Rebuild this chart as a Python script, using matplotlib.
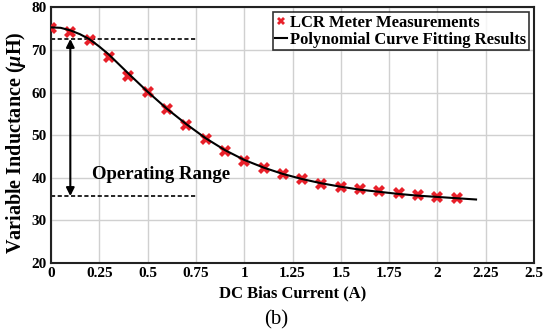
import numpy as np
import matplotlib
matplotlib.use('Agg')
import matplotlib.pyplot as plt

plt.rcParams['font.family'] = ['Liberation Serif', 'DejaVu Serif']
plt.rcParams['mathtext.fontset'] = 'custom'
plt.rcParams['mathtext.it'] = 'Liberation Serif:italic:bold'

# LCR meter measurements
meas_i = [0, 0.1, 0.2, 0.3, 0.4, 0.5, 0.6, 0.7, 0.8, 0.9, 1.0, 1.1,
          1.2, 1.3, 1.4, 1.5, 1.6, 1.7, 1.8, 1.9, 2.0, 2.1]
meas_l = [75.2, 74.2, 72.4, 68.4, 64.0, 60.1, 56.1, 52.5, 49.0, 46.3, 44.0, 42.3,
          40.8, 39.6, 38.6, 37.8, 37.3, 36.8, 36.4, 36.0, 35.5, 35.2]

# polynomial fit curve
fit_i = [0, 0.05, 0.1, 0.15, 0.2, 0.25, 0.3, 0.4, 0.5, 0.6, 0.7, 0.8, 0.9, 1.0, 1.1,
         1.2, 1.3, 1.4, 1.5, 1.6, 1.7, 1.8, 1.9, 2.0, 2.1, 2.2]
fit_l = [75.3, 75.2, 74.6, 73.7, 72.5, 70.8, 68.9, 64.5, 60.2, 56.2, 52.6, 49.3, 46.5, 44.2, 42.4,
         40.9, 39.7, 38.7, 37.9, 37.2, 36.7, 36.2, 35.8, 35.5, 35.2, 34.9]

range_hi = 72.6
range_lo = 35.7
xticks = [0, 0.25, 0.5, 0.75, 1, 1.25, 1.5, 1.75, 2, 2.25, 2.5]
xlabels = ['0', '0.25', '0.5', '0.75', '1', '1.25', '1.5', '1.75', '2', '2.25', '2.5']

fig = plt.figure(figsize=(5.52, 3.35), dpi=100)
ax = fig.add_axes([0.0924, 0.215, 0.875, 0.763])

ax.plot(meas_i, meas_l, linestyle='none', marker='X', color='#e8202a', markersize=8,
        markeredgewidth=0, label='LCR Meter Measurements', zorder=3)
ax.plot(fit_i, fit_l, color='black', linewidth=1.5, label='Polynomial Curve Fitting Results', zorder=4)

# operating range markers
ax.plot([0, 0.75], [range_hi, range_hi], 'k--', linewidth=1.2, dashes=(2.5, 1.5))
ax.plot([0, 0.75], [range_lo, range_lo], 'k--', linewidth=1.2, dashes=(2.5, 1.5))
ax.annotate('', xy=(0.1, range_hi), xytext=(0.1, range_lo),
            arrowprops=dict(arrowstyle='<|-|>', color='black', lw=1.5, mutation_scale=12,
                            shrinkA=0, shrinkB=0))
ax.text(0.57, 40.8, 'Operating Range', ha='center', va='center', fontsize=13.5, fontweight='bold')

ax.set_xlim(0, 2.5)
ax.set_ylim(20, 80)
ax.set_xticks(xticks)
ax.set_xticklabels(xlabels)
ax.set_yticks(range(20, 81, 10))
ax.grid(True, color='#d0d0d0', linewidth=1)
ax.set_axisbelow(True)
ax.tick_params(length=0, labelsize=11, pad=3)
for lab in ax.get_xticklabels() + ax.get_yticklabels():
    lab.set_fontweight('bold')
for s in ax.spines.values():
    s.set_linewidth(1.5)
    s.set_color('#222222')

ax.set_xlabel('DC Bias Current (A)', fontsize=12, fontweight='bold', labelpad=4)
ax.set_ylabel('Variable Inductance ($\\mu$H)', fontsize=14.5, fontweight='bold')
ax.yaxis.set_label_coords(-0.047, 0.47)

leg = ax.legend(loc='upper right', prop={'weight': 'bold', 'size': 12},
                frameon=True, fancybox=False, edgecolor='black', handlelength=0.7,
                handletextpad=0.2, borderpad=0.15, labelspacing=0.05, borderaxespad=0.3,
                markerscale=0.75)
leg.get_frame().set_linewidth(1.2)

fig.text(0.5, 0.045, '(b)', ha='center', va='center', fontsize=15)

fig.savefig('out.png', dpi=100)
